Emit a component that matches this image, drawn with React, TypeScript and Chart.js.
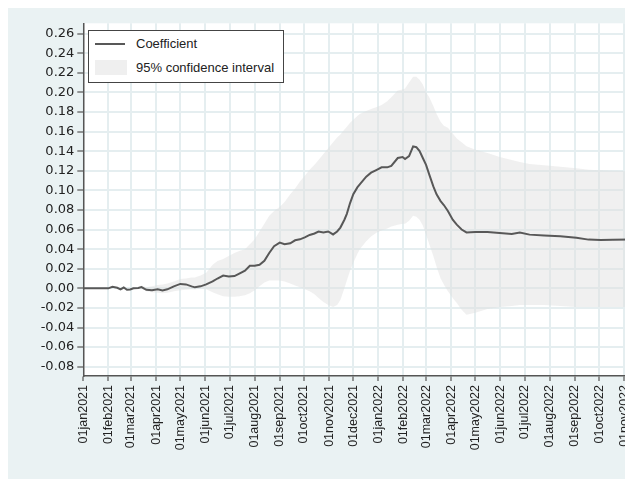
import React, { useEffect, useRef } from "react";
import { Chart, registerables } from "chart.js";

Chart.register(...registerables);

// Days since 01jan2021 for each estimate
const dayOffsets = [
  0, 31, 36, 42, 46, 50, 54, 58, 62, 68, 72, 78, 85, 92, 98, 104, 112, 120, 127, 134,
  138, 145, 152, 160, 166, 173, 180, 187, 193, 200, 206, 212, 218, 224, 230, 236, 243, 249, 256, 262,
  268, 274, 280, 286, 291, 297, 303, 309, 314, 318, 323, 326, 330, 334, 339, 342, 350, 356, 363, 369,
  376, 381, 389, 395, 398, 403, 408, 412, 416, 420, 424, 428, 433, 437, 442, 446, 451, 457, 462, 468,
  474, 485, 500, 515, 530, 540, 552, 570, 590, 610, 625, 640, 655, 676,
];

const coefficient = [
  0, 0, 0.0015, 0.0005, -0.001, 0.0008, -0.0015, -0.0012, 0.0, 0.0003, 0.0012, -0.0015, -0.002, -0.001, -0.0022, -0.001, 0.002, 0.0045, 0.004, 0.002,
  0.001, 0.002, 0.004, 0.007, 0.01, 0.013, 0.012, 0.0125, 0.015, 0.018, 0.023, 0.023, 0.024, 0.028, 0.036, 0.043, 0.0467, 0.045, 0.046, 0.049,
  0.05, 0.052, 0.0545, 0.056, 0.058, 0.057, 0.058, 0.055, 0.058, 0.062, 0.07, 0.076, 0.087, 0.096, 0.103, 0.106, 0.114, 0.118, 0.121, 0.1235,
  0.1235, 0.125, 0.133, 0.134, 0.132, 0.135, 0.1449, 0.144, 0.14, 0.133, 0.126, 0.116, 0.104, 0.096, 0.089, 0.085, 0.079, 0.07, 0.065, 0.06,
  0.057, 0.0575, 0.0575, 0.0565, 0.0555, 0.057, 0.0548, 0.054, 0.0532, 0.0515, 0.0497, 0.0494, 0.0495, 0.0497,
];

const ciLower = [
  0, 0, 0.0012, 0.0002, -0.0013, 0.0004, -0.002, -0.0017, -0.0007, -0.0006, -0.0004, -0.003, -0.004, -0.0045, -0.005, -0.0045, -0.003, -0.002, -0.0015, -0.001,
  -0.0012, 0.0, -0.001, -0.004, -0.006, -0.008, -0.0085, -0.0085, -0.008, -0.007, -0.005, -0.002, 0.002, 0.006, 0.008, 0.008, 0.008, 0.007, 0.005, 0.003,
  0.001, -0.001, -0.003, -0.006, -0.01, -0.014, -0.017, -0.019, -0.017, -0.012, 0.0, 0.008, 0.018, 0.026, 0.035, 0.04, 0.048, 0.053, 0.057, 0.059,
  0.061, 0.063, 0.065, 0.066, 0.066, 0.069, 0.074, 0.073, 0.07, 0.064, 0.055, 0.045, 0.033, 0.022, 0.01, 0.004, -0.003, -0.01, -0.015, -0.022,
  -0.027, -0.025, -0.021, -0.019, -0.018, -0.017, -0.017, -0.017, -0.018, -0.019, -0.019, -0.019, -0.019, -0.019,
];

const ciUpper = [
  0, 0, 0.0018, 0.0008, -0.0007, 0.0012, -0.001, -0.0007, 0.0007, 0.0012, 0.0028, 0.001, 0.002, 0.0035, 0.004, 0.005, 0.007, 0.0095, 0.01, 0.011,
  0.011, 0.013, 0.016, 0.024, 0.028, 0.03, 0.033, 0.036, 0.038, 0.04, 0.045, 0.05, 0.058, 0.066, 0.074, 0.079, 0.083, 0.088, 0.096, 0.102,
  0.109, 0.115, 0.121, 0.126, 0.131, 0.137, 0.143, 0.149, 0.154, 0.157, 0.162, 0.165, 0.169, 0.172, 0.176, 0.178, 0.181, 0.183, 0.185, 0.187,
  0.191, 0.195, 0.202, 0.203, 0.204, 0.21, 0.216, 0.216, 0.213, 0.208, 0.2, 0.195, 0.186, 0.178, 0.17, 0.166, 0.164, 0.158, 0.153, 0.149,
  0.145, 0.1415, 0.138, 0.134, 0.131, 0.129, 0.127, 0.1255, 0.124, 0.1225, 0.121, 0.1205, 0.12, 0.1195,
];

// First day of each month, as days since 01jan2021
const monthTickDays = [0, 31, 59, 90, 120, 151, 181, 212, 243, 273, 304, 334, 365, 396, 424, 455, 485, 516, 546, 577, 608, 638, 669];
const monthTickLabels = [
  "01jan2021", "01feb2021", "01mar2021", "01apr2021", "01may2021", "01jun2021", "01jul2021", "01aug2021",
  "01sep2021", "01oct2021", "01nov2021", "01dec2021", "01jan2022", "01feb2022", "01mar2022", "01apr2022",
  "01may2022", "01jun2022", "01jul2022", "01aug2022", "01sep2022", "01oct2022", "01nov2022",
];

const yTickValues = [-0.08, -0.06, -0.04, -0.02, 0, 0.02, 0.04, 0.06, 0.08, 0.1, 0.12, 0.14, 0.16, 0.18, 0.2, 0.22, 0.24, 0.26];

const lineLabel = "Coefficient";
const bandLabel = "95% confidence interval";

const PAGE_BG = "#eaf2f3";
const GRID = "#e5eef0";
const AXIS = "#555555";
const LINE = "#585858";
const BAND = "rgba(222,222,222,0.45)";
const BAND_SWATCH = "#efefef";
const SANS = "'Liberation Sans', Arial, Helvetica, sans-serif";

const W = 625;
const H = 471;

const backdrop = {
  id: "backdrop",
  beforeDraw(chart: any) {
    const { ctx, chartArea: a } = chart;
    ctx.save();
    ctx.fillStyle = PAGE_BG;
    ctx.fillRect(0, 0, chart.width, chart.height);
    ctx.fillStyle = "#ffffff";
    ctx.fillRect(a.left, a.top, a.right - a.left, a.bottom - a.top);
    ctx.restore();
  },
};

const points = (vals: number[]) => dayOffsets.map((d, i) => ({ x: d, y: vals[i] }));

export default function App() {
  const ref = useRef<HTMLCanvasElement | null>(null);

  useEffect(() => {
    if (!ref.current) return;
    const chart = new Chart(ref.current, {
      type: "line",
      data: {
        datasets: [
          {
            label: lineLabel,
            data: points(coefficient),
            borderColor: LINE,
            borderWidth: 2,
            pointRadius: 0,
            fill: false,
            order: 0,
          },
          {
            label: "lower",
            data: points(ciLower),
            borderWidth: 0,
            borderColor: "rgba(0,0,0,0)",
            pointRadius: 0,
            fill: false,
            order: 2,
          },
          {
            label: bandLabel,
            data: points(ciUpper),
            borderWidth: 0,
            borderColor: "rgba(0,0,0,0)",
            backgroundColor: BAND,
            pointRadius: 0,
            fill: "-1",
            order: 1,
          },
        ],
      },
      options: {
        responsive: false,
        animation: false,
        devicePixelRatio: 1,
        layout: { padding: { top: 15.3, left: 0, right: 0, bottom: 0 } },
        plugins: {
          legend: { display: false },
          tooltip: { enabled: false },
        },
        scales: {
          x: {
            type: "linear",
            min: 0,
            max: 680,
            afterBuildTicks: (s: any) => {
              s.ticks = monthTickDays.map((v) => ({ value: v }));
            },
            afterFit: (s: any) => {
              s.height = 103;
              s.paddingLeft = 0;
              s.paddingRight = 0;
            },
            ticks: {
              autoSkip: false,
              minRotation: 90,
              maxRotation: 90,
              padding: 4,
              color: "#222222",
              font: { family: SANS, size: 12.5 },
              callback: (v: any) => {
                const i = monthTickDays.indexOf(Number(v));
                return i >= 0 ? monthTickLabels[i] : "";
              },
            },
            grid: { color: GRID, lineWidth: 2, tickColor: AXIS, tickLength: 5, tickWidth: 1.2 },
            border: { color: AXIS, width: 1.5 },
          },
          y: {
            type: "linear",
            min: -0.0895,
            max: 0.2705,
            afterBuildTicks: (s: any) => {
              s.ticks = yTickValues.map((v) => ({ value: v }));
            },
            afterFit: (s: any) => {
              s.width = 75.3;
              s.paddingTop = 0;
              s.paddingBottom = 0;
            },
            ticks: {
              padding: 3,
              color: "#222222",
              font: { family: "'DejaVu Sans', sans-serif", size: 13 },
              callback: (v: any) => Number(v).toFixed(2),
            },
            grid: { color: GRID, lineWidth: 2, tickColor: AXIS, tickLength: 6, tickWidth: 1.2 },
            border: { color: AXIS, width: 1.5 },
          },
        },
      },
      plugins: [backdrop],
    });
    return () => chart.destroy();
  }, []);

  return (
    <div style={{ position: "relative", width: W, height: H }}>
      <canvas ref={ref} width={W} height={H} style={{ display: "block" }} />
      <div
        style={{
          position: "absolute",
          left: 80,
          top: 22,
          width: 194,
          height: 51,
          border: "1px solid #444",
          background: "#ffffff",
          fontFamily: SANS,
          fontSize: 13,
          color: "#222222",
        }}
      >
        <div style={{ position: "absolute", left: 6, top: 12, width: 30, height: 2, background: LINE }} />
        <div style={{ position: "absolute", left: 47, top: 4, lineHeight: "18px", whiteSpace: "nowrap" }}>{lineLabel}</div>
        <div style={{ position: "absolute", left: 6, top: 29, width: 32, height: 15, background: BAND_SWATCH }} />
        <div style={{ position: "absolute", left: 47, top: 28, lineHeight: "18px", whiteSpace: "nowrap" }}>{bandLabel}</div>
      </div>
    </div>
  );
}
